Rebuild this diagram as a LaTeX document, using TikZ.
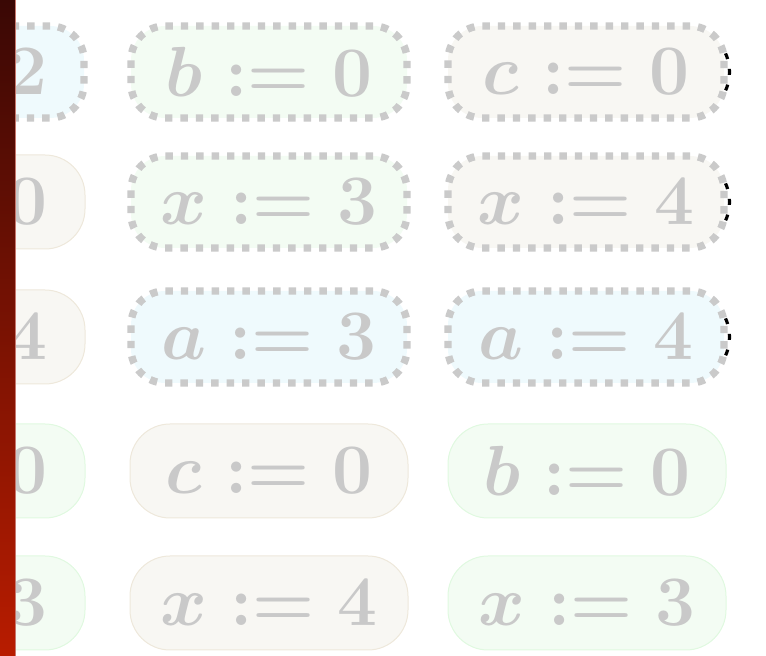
\documentclass[tikz,border=0pt]{standalone}
\usepackage{fix-cm}
\definecolor{txtgray}{RGB}{201,201,201}
\definecolor{dotgray}{RGB}{202,202,202}
\definecolor{lblue}{RGB}{239,250,253}
\definecolor{lgreen}{RGB}{243,252,243}
\definecolor{lbeige}{RGB}{248,247,243}
\definecolor{beigeline}{RGB}{238,232,219}
\definecolor{greenline}{RGB}{224,249,224}
\definecolor{bartop}{RGB}{58,8,5}
\definecolor{barbot}{RGB}{184,28,0}
\definecolor{barline}{RGB}{200,120,110}

\begin{document}
\begin{tikzpicture}[x=0.5pt,y=-0.5pt,
  every node/.style={text=txtgray,font=\fontsize{35.5}{42}\selectfont\boldmath,outer sep=0pt},
  dotbox/.style={draw=dotgray,line width=3.7pt,dash pattern=on 3.7pt off 4pt,
    rounded corners=17pt,minimum width=138pt,minimum height=46pt,inner sep=0pt},
  solidbox/.style={line width=0.5pt,rounded corners=20pt,minimum width=139pt,
    minimum height=47pt,inner sep=0pt},
  dblue/.style={dotbox,fill=lblue},
  dgreen/.style={dotbox,fill=lgreen},
  dbeige/.style={dotbox,fill=lbeige},
  sgreen/.style={solidbox,fill=lgreen,draw=greenline},
  sbeige/.style={solidbox,fill=lbeige,draw=beigeline},
  cut/.style={text width=101pt,align=right,inner xsep=18.5pt},
  peek/.style={draw=black,line width=1.6pt,dash pattern=on 3pt off 5pt,dash phase=7pt}]
  \useasboundingbox (0,0) rectangle (766,656);
  \clip (0,0) rectangle (766,656);
  % column cut at the left edge
  \node[dblue,cut] (p1) at (-54,72) {$2$};
  \node[sbeige,cut] (p2) at (-54,202) {$0$};
  \node[sbeige,cut] (p3) at (-54,337) {$4$};
  \node[sgreen,cut] (p4) at (-54,471) {$0$};
  \node[sgreen,cut] (p5) at (-54,603) {$3$};
  % middle column
  \node[dgreen] (b1) at (269,72) {$b:=0$};
  \node[dgreen] (x3) at (269,202) {$x:=3$};
  \node[dblue] (a3) at (269,337) {$a:=3$};
  \node[sbeige] (c2) at (269,471) {$c:=0$};
  \node[sbeige] (x4b) at (269,603) {$x:=4$};
  % right column
  \node[dbeige] (c1) at (586,72) {$c:=0$};
  \node[dbeige] (x4) at (586,202) {$x:=4$};
  \node[dblue] (a4) at (586,337) {$a:=4$};
  \node[sgreen] (b2) at (587,471) {$b:=0$};
  \node[sgreen] (x3b) at (587,603) {$x:=3$};
  \foreach \n in {c1,x4,a4}
    \draw[peek] ([xshift=-20.25pt]\n.east) ++(-26:23pt) arc[start angle=-26,end angle=26,radius=23pt];
  % bar
  \shade[top color=bartop,bottom color=barbot] (0,0) rectangle (15,656);
  \draw[barline,line width=0.4pt] (15.5,0) -- (15.5,656);
\end{tikzpicture}
\end{document}
